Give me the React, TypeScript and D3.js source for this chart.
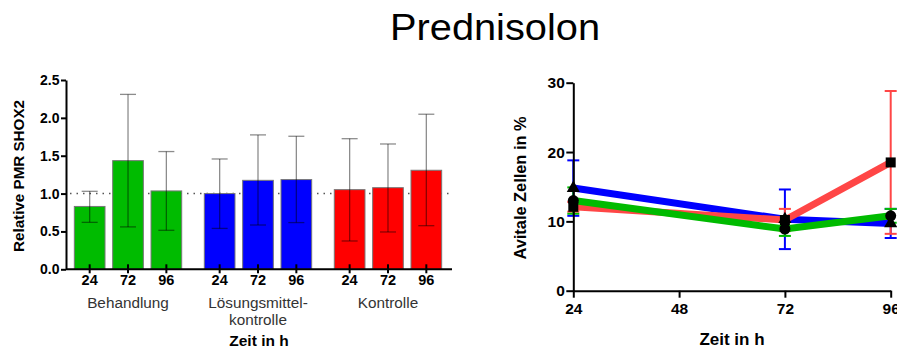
import React, { useEffect, useRef } from "react";
import * as d3 from "d3";

// bar chart data
const groups = ["Behandlung", "Lösungsmittel-\nkontrolle", "Kontrolle"];
const times = ["24", "72", "96"];
const groupColors = ["#00bb00", "#0000ff", "#ff0000"];
const barMeans = [
  [0.83, 1.435, 1.035],
  [1.0, 1.175, 1.185],
  [1.052, 1.078, 1.308],
];
const barLow = [
  [0.62, 0.56, 0.515],
  [0.54, 0.585, 0.617],
  [0.374, 0.493, 0.576],
];
const barHigh = [
  [1.03, 2.31, 1.555],
  [1.457, 1.775, 1.757],
  [1.725, 1.655, 2.048],
];
const barTicks = [0, 0.5, 1.0, 1.5, 2.0, 2.5];

// line chart data
const hours = [24, 72, 96];
const lineTicksX = [24, 48, 72, 96];
const lineTicksY = [0, 10, 20, 30];
const seriesNames = ["blue", "red", "green"];
const seriesColors = ["#0000ff", "#ff4646", "#00bb00"];
const seriesShapes = ["triangle", "square", "circle"];
const blueVals = [14.8, 10.3, 9.7];
const blueErr = [4.0, 4.3, 2.1];
const redVals = [12.1, 10.2, 18.5];
const redErr = [0.7, 1.6, 10.3];
const greenVals = [13.0, 8.9, 10.8];
const greenErr = [1.9, 1.0, 1.0];

const FONT = "Arial, 'Liberation Sans', sans-serif";

export default function App() {
  const ref = useRef<SVGSVGElement>(null);

  useEffect(() => {
    const svg = d3.select(ref.current);
    svg.selectAll("*").remove();

    svg.append("text")
      .attr("x", 495).attr("y", 39.5)
      .attr("text-anchor", "middle")
      .attr("textLength", 210).attr("lengthAdjust", "spacingAndGlyphs")
      .style("font-family", FONT).style("font-size", "36px")
      .text("Prednisolon");

    // ---------- left: bar chart ----------
    const y = d3.scaleLinear().domain([0, 2.5]).range([269.3, 80]);
    const x0 = d3.scaleBand().domain(groups).range([70.5, 445.5]).paddingInner(0.115);
    const x1 = d3.scaleBand().domain(times).range([0, x0.bandwidth()])
      .paddingInner(0.2).paddingOuter(0.1);

    const left = svg.append("g");

    // dotted reference line at 1.0
    left.append("line")
      .attr("x1", 70).attr("x2", 452)
      .attr("y1", y(1)).attr("y2", y(1))
      .attr("stroke", "#555").attr("stroke-width", 1.5)
      .attr("stroke-dasharray", "1.5,5");

    groups.forEach((g, gi) => {
      const gg = left.append("g").attr("transform", `translate(${x0(g)},0)`);
      times.forEach((t, ti) => {
        const bx = x1(t)!;
        const cx = bx + x1.bandwidth() / 2;
        gg.append("rect")
          .attr("x", bx).attr("y", y(barMeans[gi][ti]))
          .attr("width", x1.bandwidth())
          .attr("height", y(0) - y(barMeans[gi][ti]))
          .attr("fill", groupColors[gi])
          .attr("stroke", "#777").attr("stroke-width", 1);
        const eb = gg.append("g").attr("stroke", "rgba(0,0,0,0.45)").attr("stroke-width", 1.3);
        eb.append("line").attr("x1", cx).attr("x2", cx)
          .attr("y1", y(barHigh[gi][ti])).attr("y2", y(barLow[gi][ti]));
        [barHigh[gi][ti], barLow[gi][ti]].forEach((v) => {
          eb.append("line").attr("x1", cx - 8).attr("x2", cx + 8)
            .attr("y1", y(v)).attr("y2", y(v));
        });
        // tick at bar centre
        gg.append("line").attr("x1", cx).attr("x2", cx)
          .attr("y1", y(0) - 5).attr("y2", y(0) + 4)
          .attr("stroke", "#000").attr("stroke-width", 2);
        gg.append("text")
          .attr("x", cx).attr("y", 284.5)
          .attr("text-anchor", "middle")
          .style("font-family", FONT).style("font-size", "14.5px").style("font-weight", "bold")
          .text(t);
      });
      const lines = g.split("\n");
      lines.forEach((l, li) => {
        left.append("text")
          .attr("x", x0(g)! + x0.bandwidth() / 2).attr("y", 307.5 + li * 17.5)
          .attr("text-anchor", "middle")
          .attr("fill", "#333")
          .style("font-family", FONT).style("font-size", "15.3px")
          .text(l);
      });
    });

    const yAxisL = left.append("g").attr("transform", "translate(66,0)")
      .call(d3.axisLeft(y).tickValues(barTicks).tickFormat(d3.format(".1f")).tickSize(5).tickSizeOuter(0));
    yAxisL.select(".domain").attr("stroke-width", 2);
    yAxisL.selectAll(".tick line").attr("stroke-width", 2);
    yAxisL.selectAll("text")
      .style("font-family", FONT).style("font-size", "14px").style("font-weight", "bold")
      .attr("x", -6.5);
    left.append("line").attr("x1", 66).attr("x2", 452)
      .attr("y1", y(0)).attr("y2", y(0))
      .attr("stroke", "#000").attr("stroke-width", 2);

    left.append("text")
      .attr("transform", `translate(23.5,176) rotate(-90)`)
      .attr("text-anchor", "middle")
      .attr("textLength", 152).attr("lengthAdjust", "spacingAndGlyphs")
      .style("font-family", FONT).style("font-size", "14.5px").style("font-weight", "bold")
      .text("Relative PMR SHOX2");
    left.append("text")
      .attr("x", 259).attr("y", 346)
      .attr("text-anchor", "middle")
      .style("font-family", FONT).style("font-size", "15.5px").style("font-weight", "bold")
      .text("Zeit in h");

    // ---------- right: line chart ----------
    const xs = d3.scaleLinear().domain([24, 96]).range([573.3, 890.7]);
    const ys = d3.scaleLinear().domain([0, 30]).range([290.7, 82.7]);
    const right = svg.append("g");

    const seriesVals = [blueVals, redVals, greenVals];
    const seriesErr = [blueErr, redErr, greenErr];

    // error bars
    seriesNames.forEach((s, si) => {
      hours.forEach((h, hi) => {
        const v = seriesVals[si][hi];
        const e = seriesErr[si][hi];
        const eg = right.append("g").attr("stroke", seriesColors[si]).attr("stroke-width", 2);
        eg.append("line").attr("x1", xs(h)).attr("x2", xs(h))
          .attr("y1", ys(v + e)).attr("y2", ys(v - e));
        [v + e, v - e].forEach((w) => {
          eg.append("line").attr("x1", xs(h) - 6).attr("x2", xs(h) + 6)
            .attr("y1", ys(w)).attr("y2", ys(w));
        });
      });
    });

    const line = d3.line<number>()
      .x((_, i) => xs(hours[i]))
      .y((d) => ys(d));
    seriesNames.forEach((s, si) => {
      right.append("path")
        .attr("d", line(seriesVals[si]))
        .attr("fill", "none")
        .attr("stroke", seriesColors[si])
        .attr("stroke-width", 7);
    });

    const sym = {
      triangle: d3.symbol().type(d3.symbolTriangle).size(75),
      square: d3.symbol().type(d3.symbolSquare).size(100),
      circle: d3.symbol().type(d3.symbolCircle).size(95),
    } as Record<string, d3.Symbol<any, any>>;
    seriesNames.forEach((s, si) => {
      hours.forEach((h, hi) => {
        right.append("path")
          .attr("d", sym[seriesShapes[si]]()!)
          .attr("transform", `translate(${xs(h)},${ys(seriesVals[si][hi])})`)
          .attr("fill", "#000");
      });
    });

    const xAxisR = right.append("g").attr("transform", `translate(0,${ys(0)})`)
      .call(d3.axisBottom(xs).tickValues(lineTicksX).tickSize(7).tickSizeOuter(0));
    const yAxisR = right.append("g").attr("transform", `translate(${xs(24)},0)`)
      .call(d3.axisLeft(ys).tickValues(lineTicksY).tickSize(7).tickSizeOuter(0));
    [xAxisR, yAxisR].forEach((a) => {
      a.select(".domain").attr("stroke-width", 2);
      a.selectAll(".tick line").attr("stroke-width", 2);
      a.selectAll("text")
        .style("font-family", FONT).style("font-size", "15.5px").style("font-weight", "bold");
    });
    xAxisR.selectAll("text").attr("y", 12);
    yAxisR.selectAll("text").attr("x", -8.5);

    right.append("text")
      .attr("transform", `translate(525.5,188) rotate(-90)`)
      .attr("text-anchor", "middle")
      .attr("textLength", 143).attr("lengthAdjust", "spacingAndGlyphs")
      .style("font-family", FONT).style("font-size", "16px").style("font-weight", "bold")
      .text("Avitale Zellen in %");
    right.append("text")
      .attr("x", 732).attr("y", 345)
      .attr("text-anchor", "middle")
      .style("font-family", FONT).style("font-size", "17px").style("font-weight", "bold")
      .text("Zeit in h");
  }, []);

  return (
    <svg
      ref={ref}
      width={897}
      height={348}
      style={{ position: "absolute", left: 0, top: 0, background: "#fff" }}
    />
  );
}
